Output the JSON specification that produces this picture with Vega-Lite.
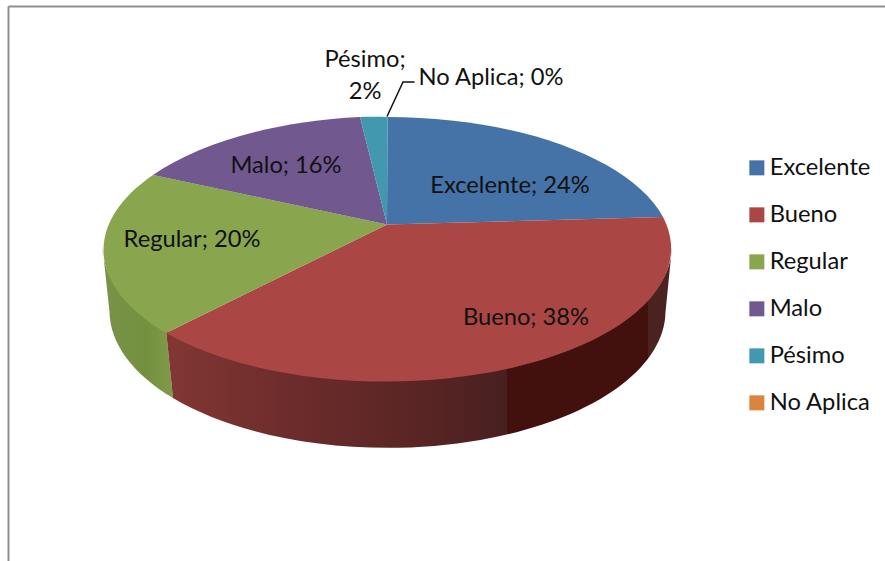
{
  "$schema": "https://vega.github.io/schema/vega-lite/v6.json",
  "width": 877,
  "height": 555,
  "autosize": {"type": "none"},
  "padding": {"left": 8, "top": 6, "right": 0, "bottom": 0},
  "background": "white",
  "view": {"stroke": null},
  "config": {"font": "Lato", "text": {"font": "Lato"}},
  "data": {"values": [
    {"categoria": "Excelente", "valor": 24, "etiqueta": "Excelente; 24%"},
    {"categoria": "Bueno", "valor": 38, "etiqueta": "Bueno; 38%"},
    {"categoria": "Regular", "valor": 20, "etiqueta": "Regular; 20%"},
    {"categoria": "Malo", "valor": 16, "etiqueta": "Malo; 16%"},
    {"categoria": "Pésimo", "valor": 2, "etiqueta": "Pésimo;\n2%"},
    {"categoria": "No Aplica", "valor": 0, "etiqueta": "No Aplica; 0%"}
  ]},
  "layer": [
    {
      "mark": {"type": "point", "opacity": 0},
      "encoding": {
        "x": {"field": "valor", "type": "quantitative", "axis": {"orient": "top", "domain": true, "domainColor": "#8f8f8f", "domainWidth": 2, "ticks": false, "labels": false, "title": null, "grid": false}},
        "y": {"field": "valor", "type": "quantitative", "axis": {"orient": "left", "domain": true, "domainColor": "#8f8f8f", "domainWidth": 2, "ticks": false, "labels": false, "title": null, "grid": false}}
      }
    },
    {
      "transform": [{"filter": "datum.categoria === 'Regular'"}],
      "mark": {"type": "point", "filled": true, "opacity": 1, "size": 4, "strokeWidth": 0,
        "shape": "M-280.5 46.5 A285 133 0 0 1 -344 -36.5 L-337 28.5 A278 137 0 0 0 -273.5 114.5 Z",
        "fill": {"gradient": "linear", "x1": 0, "y1": 0, "x2": 1, "y2": 0, "stops": [
          {"offset": 0, "color": "#79934a"}, {"offset": 0.6, "color": "#73903f"}, {"offset": 1, "color": "#7f9b49"}]}},
      "encoding": {}
    },
    {
      "transform": [{"filter": "datum.categoria === 'Bueno'"}],
      "mark": {"type": "point", "filled": true, "opacity": 1, "size": 4, "strokeWidth": 0,
        "shape": "M-280.5 46.5 A285 133 0 0 0 225.5 -36.5 L219 28.5 A278 137 0 0 1 -273.5 114.5 Z",
        "fill": {"gradient": "linear", "x1": 0, "y1": 0, "x2": 1, "y2": 0, "stops": [
          {"offset": 0, "color": "#823733"}, {"offset": 0.25, "color": "#6c2c2b"}, {"offset": 0.5, "color": "#592524"},
          {"offset": 0.673, "color": "#482020"}, {"offset": 0.674, "color": "#43110d"}, {"offset": 0.952, "color": "#43110d"},
          {"offset": 0.953, "color": "#4a2320"}, {"offset": 1, "color": "#4a2320"}]}},
      "encoding": {}
    },
    {
      "mark": {"type": "point", "filled": true, "opacity": 1, "size": 4, "strokeWidth": 0},
      "encoding": {
        "fill": {
          "field": "categoria", "type": "nominal",
          "scale": {
            "domain": ["Excelente", "Bueno", "Regular", "Malo", "Pésimo", "No Aplica"],
            "range": ["#4572A7", "#AA4643", "#89A54E", "#71588F", "#4198AF", "#DB843D"]
          },
          "legend": {
            "title": null, "orient": "none", "legendX": 737, "legendY": 150,
            "symbolType": "square", "symbolSize": 225, "symbolStrokeWidth": 0,
            "labelFont": "Lato", "labelFontSize": 23.7, "labelColor": "#111111", "labelOffset": 1,
            "labelLimit": 200, "rowPadding": 22
          }
        },
        "shape": {
          "field": "categoria", "type": "nominal", "legend": null,
          "scale": {
            "domain": ["No Aplica", "Pésimo", "Malo", "Regular", "Bueno", "Excelente"],
            "range": [
              "M-59 -166.5 L-59 -166.5 Z",
              "M-59.5 -59 L-86.5 -166.5 A285 133 0 0 1 -59 -166.5 Z",
              "M-59.5 -59 L-293.5 -108.5 A285 133 0 0 1 -86.5 -166.5 Z",
              "M-59.5 -59 L-280.5 49.5 A285 133 0 0 1 -293.5 -108.5 Z",
              "M-59.5 -59 L216.5 -66.5 A285 133 0 0 1 -280.5 49.5 Z",
              "M-59.5 -59 L-59 -166.5 A285 133 0 0 1 216.5 -66.5 Z"
            ]
          }
        }
      }
    },
    {
      "transform": [{"filter": "datum.categoria === 'No Aplica'"}],
      "mark": {"type": "point", "filled": false, "opacity": 1, "size": 4, "stroke": "#111111", "strokeWidth": 1.5,
        "shape": "M-59.5 -167 L-43.5 -201.5 L-32 -201.5"},
      "encoding": {}
    },
    {"transform": [{"filter": "datum.categoria === 'Excelente'"}],
     "mark": {"type": "text", "fontSize": 23.7, "fill": "#111111", "dx": 63.5, "dy": -97.5},
     "encoding": {"text": {"field": "etiqueta"}}},
    {"transform": [{"filter": "datum.categoria === 'Bueno'"}],
     "mark": {"type": "text", "fontSize": 23.7, "fill": "#111111", "dx": 79.5, "dy": 34.5},
     "encoding": {"text": {"field": "etiqueta"}}},
    {"transform": [{"filter": "datum.categoria === 'Regular'"}],
     "mark": {"type": "text", "fontSize": 23.7, "fill": "#111111", "dx": -254.5, "dy": -43.5},
     "encoding": {"text": {"field": "etiqueta"}}},
    {"transform": [{"filter": "datum.categoria === 'Malo'"}],
     "mark": {"type": "text", "fontSize": 23.7, "fill": "#111111", "dx": -160.5, "dy": -117.5},
     "encoding": {"text": {"field": "etiqueta"}}},
    {"transform": [{"filter": "datum.categoria === 'Pésimo'"}],
     "mark": {"type": "text", "fontSize": 23.7, "fill": "#111111", "dx": -81.5, "dy": -223.5, "lineBreak": "\n", "lineHeight": 32},
     "encoding": {"text": {"field": "etiqueta"}}},
    {"transform": [{"filter": "datum.categoria === 'No Aplica'"}],
     "mark": {"type": "text", "fontSize": 23.7, "fill": "#111111", "dx": 44.5, "dy": -205.5},
     "encoding": {"text": {"field": "etiqueta"}}}
  ]
}
